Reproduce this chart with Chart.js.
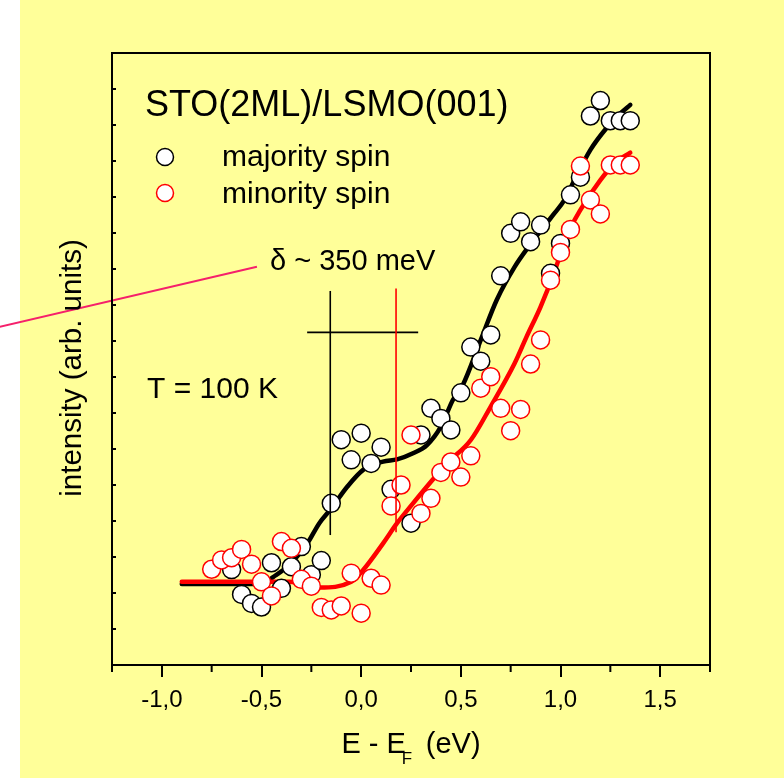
<!DOCTYPE html>
<html>
<head>
<meta charset="utf-8">
<script src="https://cdn.jsdelivr.net/npm/chart.js@4/dist/chart.umd.min.js"></script>
<style>
  html, body { margin: 0; padding: 0; background: #ffffff; }
  canvas { display: block; }
</style>
</head>
<body>
<canvas id="c" width="784" height="778"></canvas>
<script>
// Spin-resolved intensity vs. binding energy, STO(2ML)/LSMO(001), T = 100 K

// measured points: majority spin
const majorityE = [-0.65, -0.60, -0.55, -0.50, -0.45, -0.40, -0.35, -0.30, -0.25, -0.20,
                   -0.15, -0.10, -0.05, 0.00, 0.05, 0.10, 0.15, 0.25, 0.30, 0.35,
                   0.40, 0.45, 0.50, 0.55, 0.60, 0.65, 0.70, 0.75, 0.80, 0.85,
                   0.90, 0.95, 1.00, 1.05, 1.10, 1.15, 1.20, 1.25, 1.30, 1.35];
const majorityI = [2.65, 1.96, 1.71, 1.61, 2.84, 2.13, 2.73, 3.29, 2.51, 2.90,
                   4.49, 6.26, 5.70, 6.44, 5.60, 6.05, 4.88, 3.94, 6.39, 7.13,
                   6.85, 6.53, 7.56, 8.83, 8.44, 9.17, 10.81, 11.99, 12.31, 11.76,
                   12.22, 10.88, 11.71, 13.06, 13.55, 15.25, 15.68, 15.12, 15.12, 15.12];

// measured points: minority spin
const minorityE = [-0.75, -0.70, -0.65, -0.60, -0.55, -0.50, -0.45, -0.40, -0.35, -0.30,
                   -0.25, -0.20, -0.15, -0.10, -0.05, 0.00, 0.05, 0.10, 0.15, 0.20,
                   0.25, 0.30, 0.35, 0.40, 0.45, 0.50, 0.55, 0.60, 0.65, 0.70,
                   0.75, 0.80, 0.85, 0.90, 0.95, 1.00, 1.05, 1.10, 1.15, 1.20,
                   1.25, 1.30, 1.35];
const minorityI = [2.66, 2.92, 2.98, 3.21, 2.80, 2.31, 1.92, 3.43, 3.24, 2.38,
                   2.19, 1.60, 1.53, 1.64, 2.55, 1.44, 2.41, 2.22, 4.42, 5.00,
                   6.39, 4.21, 4.63, 5.35, 5.64, 5.22, 5.81, 7.69, 8.01, 7.13,
                   6.51, 7.10, 8.36, 9.03, 10.69, 11.46, 12.10, 13.86, 12.92, 12.53,
                   13.89, 13.89, 13.89];

// smoothed curves
const majorityFitE = [-0.90, -0.50, -0.44, -0.36, -0.27, -0.21, -0.15, -0.07, 0.01, 0.11,
                      0.18, 0.26, 0.33, 0.40, 0.46, 0.51, 0.60, 0.68, 0.77, 0.84,
                      0.93, 0.97, 1.02, 1.07, 1.15, 1.23, 1.30, 1.35];
const majorityFitI = [2.25, 2.25, 2.45, 2.78, 3.38, 3.94, 4.35, 4.95, 5.42, 5.65,
                      5.71, 5.88, 6.11, 6.62, 7.36, 7.78, 9.03, 10.14, 11.06, 11.62,
                      12.27, 12.55, 12.92, 13.47, 14.31, 14.91, 15.32, 15.56];
const minorityFitE = [-0.90, -0.36, -0.21, -0.05, 0.01, 0.11, 0.18, 0.26, 0.35, 0.43,
                      0.55, 0.65, 0.77, 0.83, 0.90, 0.97, 1.03, 1.10, 1.20, 1.28, 1.35];
const minorityFitI = [2.31, 2.31, 2.15, 2.31, 2.64, 3.38, 3.94, 4.49, 5.09, 5.60,
                      6.25, 7.18, 8.38, 9.12, 9.95, 10.93, 11.90, 12.64, 13.47, 13.98, 14.23];

// axes
const xMajorTicks = [-1.0, -0.5, 0.0, 0.5, 1.0, 1.5];
const xTickLabels = ['-1,0', '-0,5', '0,0', '0,5', '1,0', '1,5'];
const xMinorTicks = [-1.25, -0.75, -0.25, 0.25, 0.75, 1.25, 1.75];
const yTicks = [1, 2, 3, 4, 5, 6, 7, 8, 9, 10, 11, 12, 13, 14, 15, 16];
const xRange = [-1.25, 1.75];
const yRange = [0, 17];

// exchange splitting marks (energy positions of the two edges)
const majorityEdge = -0.155;
const minorityEdge = 0.175;

const FONT = '"Liberation Sans", Arial, Helvetica, sans-serif';
const pts = (xs, ys) => xs.map((x, i) => ({ x: x, y: ys[i] }));

const decor = {
  id: 'decor',
  beforeDraw(chart) {
    const { ctx, width, height } = chart;
    ctx.save();
    ctx.fillStyle = '#ffffff';
    ctx.fillRect(0, 0, width, height);
    ctx.fillStyle = '#FFFF99';
    ctx.fillRect(20, 0, width - 20, height);
    ctx.restore();
  },
  afterDatasetsDraw(chart) {
    const { ctx } = chart;
    const xs = chart.scales.x, ys = chart.scales.y;
    const X = v => xs.getPixelForValue(v);
    const Y = v => ys.getPixelForValue(v);
    ctx.save();
    ctx.lineCap = 'butt';
    // edge of majority states
    ctx.strokeStyle = '#000000';
    ctx.lineWidth = 1.6;
    ctx.beginPath();
    ctx.moveTo(X(majorityEdge), Y(10.39));
    ctx.lineTo(X(majorityEdge), Y(3.61));
    ctx.stroke();
    // horizontal bar across both edges
    ctx.beginPath();
    ctx.moveTo(X(-0.271), Y(9.24));
    ctx.lineTo(X(0.286), Y(9.24));
    ctx.stroke();
    // edge of minority states
    ctx.strokeStyle = '#FF0000';
    ctx.lineWidth = 1.6;
    ctx.beginPath();
    ctx.moveTo(X(minorityEdge), Y(10.46));
    ctx.lineTo(X(minorityEdge), Y(3.69));
    ctx.stroke();
    // pointer line of the splitting label
    ctx.strokeStyle = '#F5206B';
    ctx.lineWidth = 2;
    ctx.beginPath();
    ctx.moveTo(X(-1.815), Y(9.39));
    ctx.lineTo(X(-0.523), Y(11.06));
    ctx.stroke();
    ctx.restore();
  },
  afterDraw(chart) {
    const { ctx, chartArea: a } = chart;
    const xs = chart.scales.x, ys = chart.scales.y;
    ctx.save();
    // frame
    ctx.strokeStyle = '#000000';
    ctx.lineWidth = 2;
    ctx.strokeRect(a.left, a.top, a.right - a.left, a.bottom - a.top);
    // minor x ticks (outward)
    ctx.beginPath();
    xMinorTicks.forEach(v => {
      const x = xs.getPixelForValue(v);
      ctx.moveTo(x, a.bottom);
      ctx.lineTo(x, a.bottom + 7);
    });
    ctx.stroke();
    // y ticks (inward, unlabeled)
    ctx.beginPath();
    yTicks.forEach(v => {
      const y = ys.getPixelForValue(v);
      ctx.moveTo(a.left, y);
      ctx.lineTo(a.left + 4, y);
    });
    ctx.stroke();

    ctx.fillStyle = '#000000';
    ctx.textBaseline = 'alphabetic';
    ctx.textAlign = 'left';
    // sample name
    ctx.font = '36px ' + FONT;
    ctx.fillText('STO(2ML)/LSMO(001)', 145, 116);
    // legend
    const legend = [
      { label: 'majority spin', color: '#000000', y: 157, base: 166 },
      { label: 'minority spin', color: '#FF0000', y: 193, base: 203 }
    ];
    legend.forEach(item => {
      ctx.beginPath();
      ctx.arc(165, item.y, 8.5, 0, Math.PI * 2);
      ctx.fillStyle = '#ffffff';
      ctx.fill();
      ctx.lineWidth = 1.5;
      ctx.strokeStyle = item.color;
      ctx.stroke();
      ctx.fillStyle = '#000000';
      ctx.font = '30px ' + FONT;
      ctx.fillText(item.label, 222, item.base);
    });
    // annotations
    ctx.font = '29px ' + FONT;
    ctx.fillText('\u03B4 ~ 350 meV', 270, 270);
    ctx.font = '30px ' + FONT;
    ctx.fillText('T = 100 K', 147, 398);

    // y-axis title
    ctx.save();
    ctx.translate(81, 368);
    ctx.rotate(-Math.PI / 2);
    ctx.textAlign = 'center';
    ctx.font = '29.5px ' + FONT;
    ctx.fillText('intensity (arb. units)', 0, 0);
    ctx.restore();

    // x-axis title with subscript
    ctx.font = '29px ' + FONT;
    const p1 = 'E - E', p3 = '(eV)';
    const w1 = ctx.measureText(p1).width;
    const w3 = ctx.measureText(p3).width;
    const total = w1 + 20 + w3;
    const x0 = (a.left + a.right) / 2 - total / 2;
    const base = 753;
    ctx.fillText(p1, x0, base);
    ctx.fillText(p3, x0 + w1 + 20, base);
    ctx.font = '17px ' + FONT;
    ctx.fillText('F', x0 + w1 - 4, base + 11);
    ctx.restore();
  }
};

const circle = (color) => ({
  showLine: false,
  pointStyle: 'circle',
  pointRadius: 9,
  pointHoverRadius: 9,
  pointBackgroundColor: '#ffffff',
  pointBorderColor: color,
  pointBorderWidth: 1.5,
  borderColor: color,
  backgroundColor: '#ffffff'
});

new Chart(document.getElementById('c'), {
  type: 'scatter',
  data: {
    datasets: [
      Object.assign({ label: 'minority spin', data: pts(minorityE, minorityI), order: 0 }, circle('#FF0000')),
      Object.assign({ label: 'majority spin', data: pts(majorityE, majorityI), order: 1 }, circle('#000000')),
      {
        label: 'minority fit', data: pts(minorityFitE, minorityFitI), order: 2,
        showLine: true, pointRadius: 0, borderColor: '#FF0000', borderWidth: 4.5,
        cubicInterpolationMode: 'monotone', borderCapStyle: 'round', borderJoinStyle: 'round'
      },
      {
        label: 'majority fit', data: pts(majorityFitE, majorityFitI), order: 3,
        showLine: true, pointRadius: 0, borderColor: '#000000', borderWidth: 4.5,
        cubicInterpolationMode: 'monotone', borderCapStyle: 'round', borderJoinStyle: 'round'
      }
    ]
  },
  options: {
    responsive: false,
    animation: false,
    events: [],
    layout: { padding: { left: 112, right: 74, top: 53, bottom: 0 } },
    plugins: { legend: { display: false }, tooltip: { enabled: false }, title: { display: false } },
    scales: {
      x: {
        type: 'linear',
        position: 'bottom',
        min: xRange[0],
        max: xRange[1],
        afterBuildTicks: s => { s.ticks = xMajorTicks.map(v => ({ value: v })); },
        afterFit: s => { s.height = 113; },
        ticks: {
          autoSkip: false,
          maxRotation: 0,
          padding: 9,
          color: '#000000',
          font: { family: FONT, size: 24 },
          callback: (v, i) => xTickLabels[i]
        },
        grid: {
          drawOnChartArea: false,
          drawTicks: true,
          tickLength: 12,
          lineWidth: 2,
          tickWidth: 2,
          color: '#000000',
          tickColor: '#000000'
        },
        border: { display: true, color: '#000000', width: 2 },
        title: { display: false }
      },
      y: {
        type: 'linear',
        min: yRange[0],
        max: yRange[1],
        display: false
      }
    }
  },
  plugins: [decor]
});
</script>
</body>
</html>
